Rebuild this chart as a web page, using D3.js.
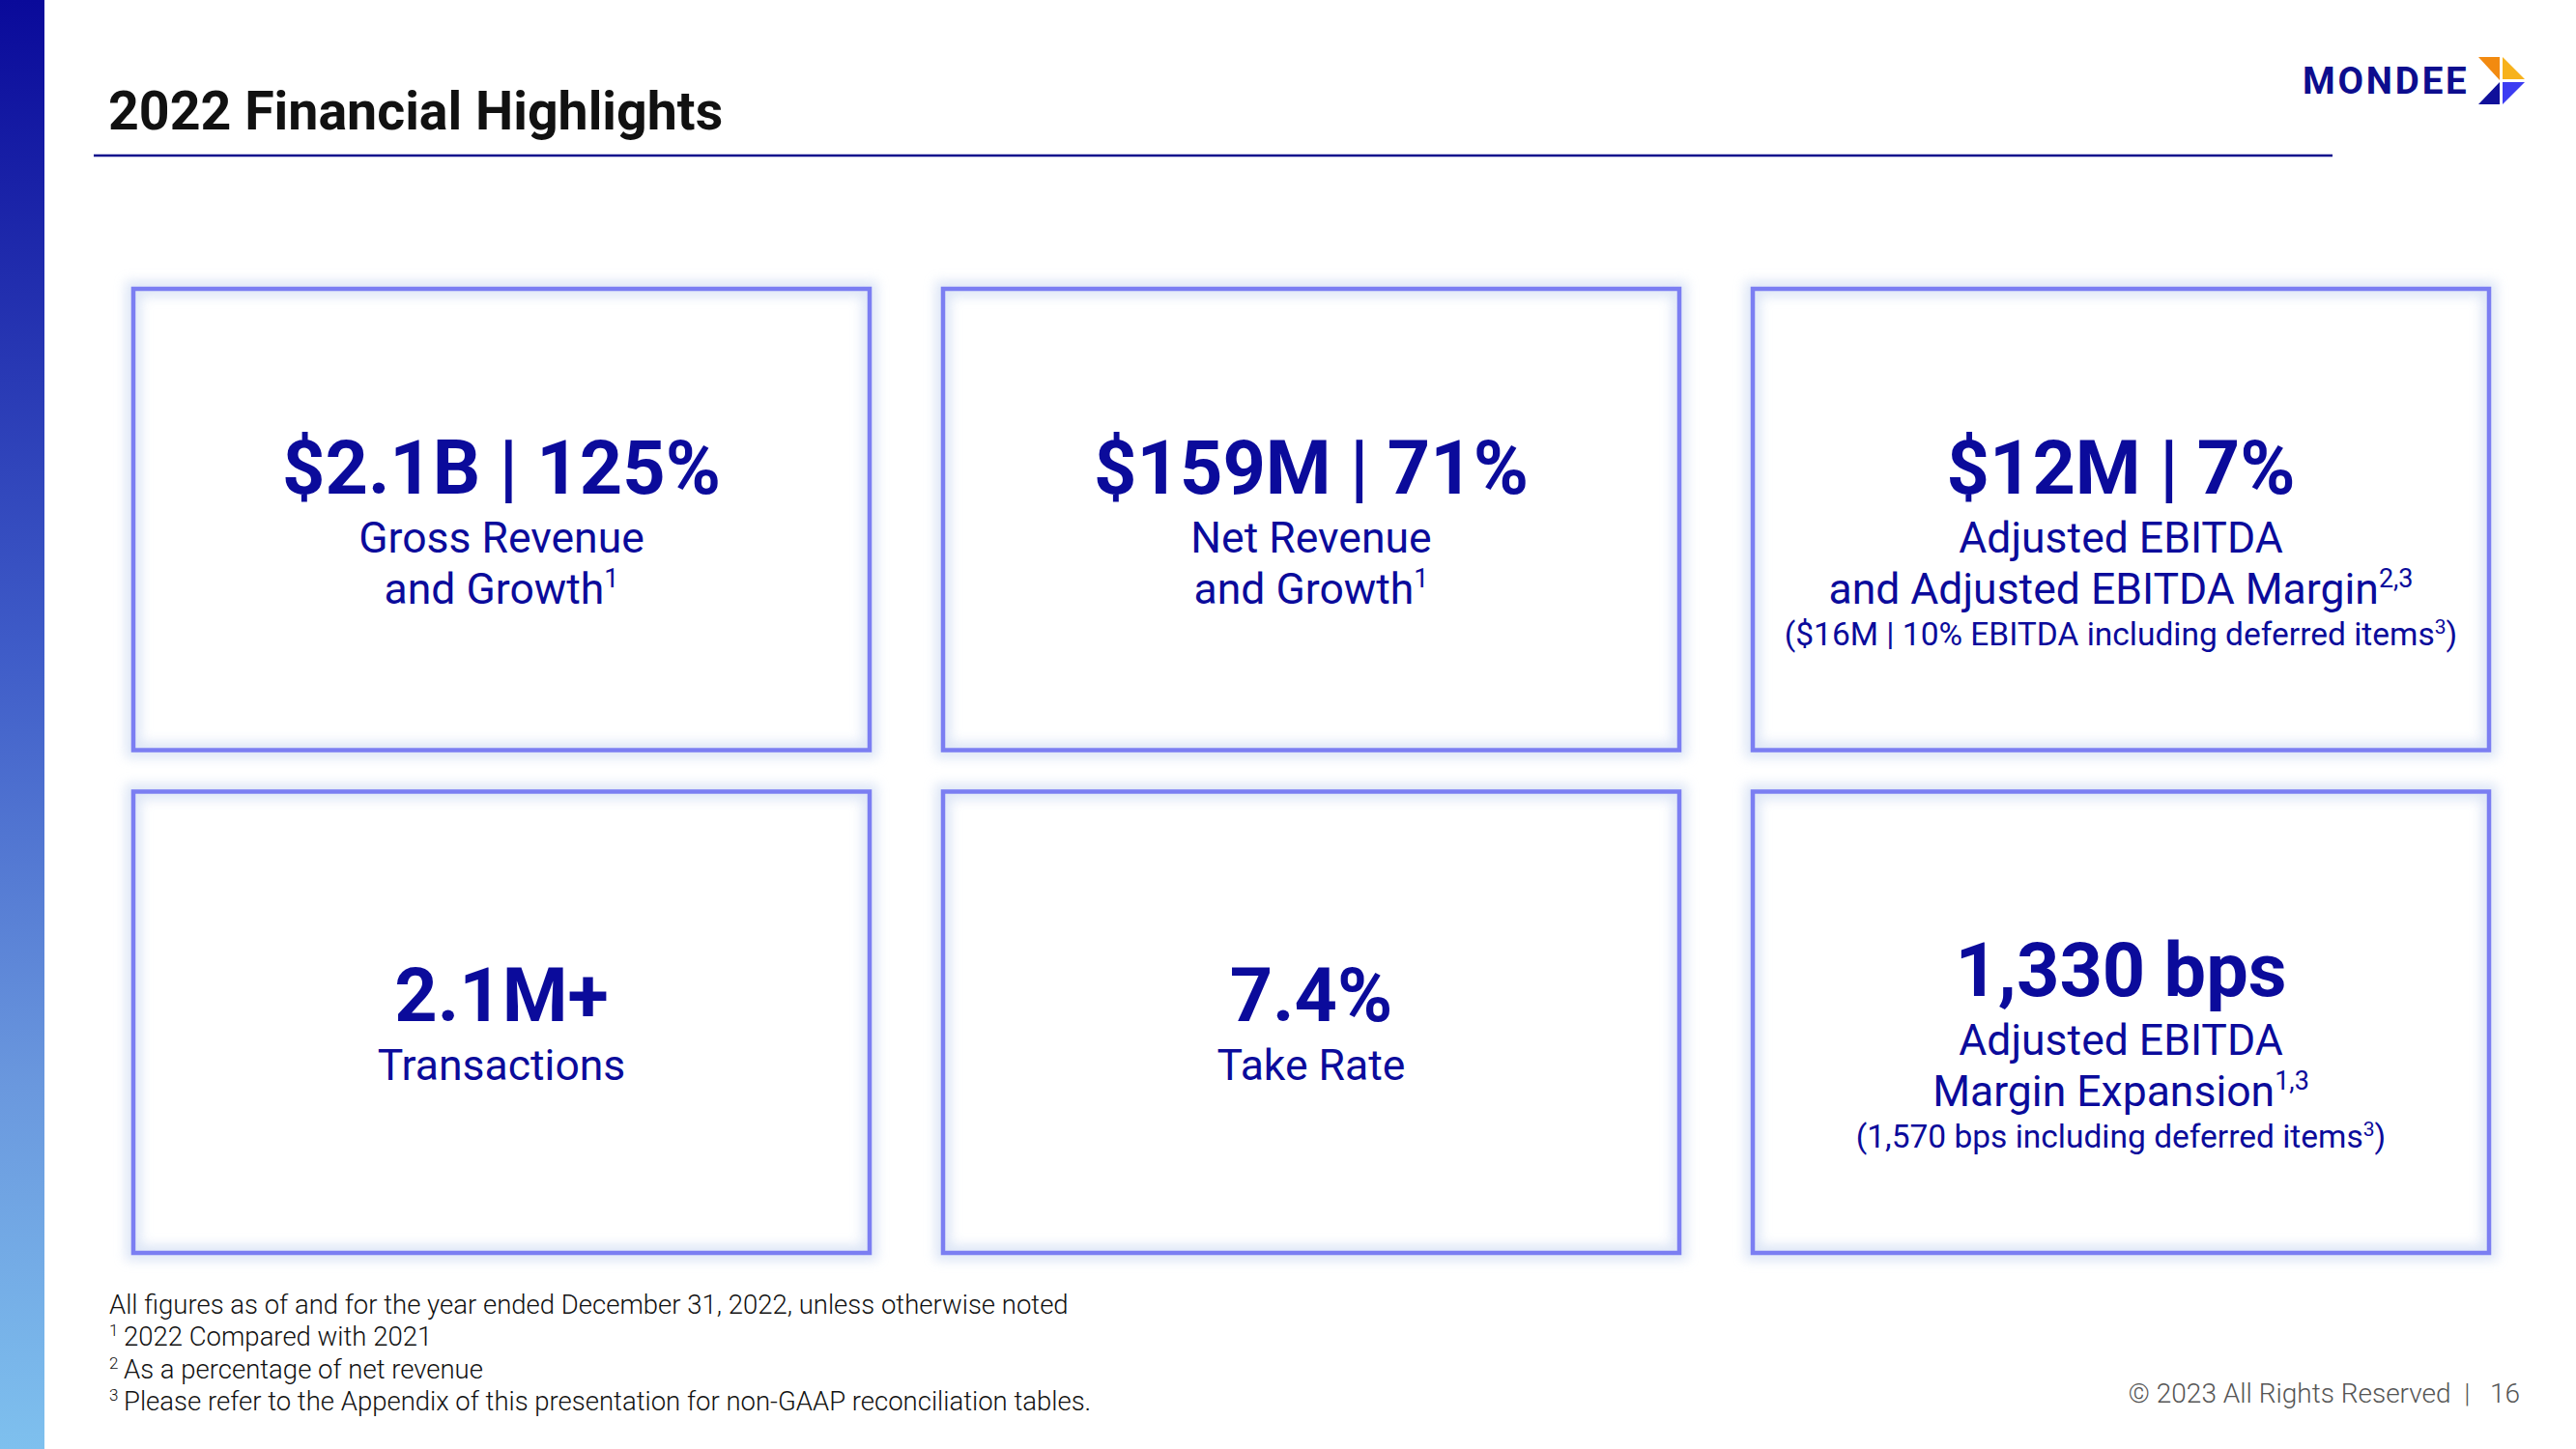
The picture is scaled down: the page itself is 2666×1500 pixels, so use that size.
<!DOCTYPE html>
<html>
<head>
<meta charset="utf-8">
<script src="https://cdn.jsdelivr.net/npm/d3@7"></script>
<style>
  html, body { margin: 0; padding: 0; background: #ffffff; }
  svg { display: block; }
  text { font-family: Roboto, "Noto Sans", sans-serif; }
</style>
</head>
<body>
<svg id="chart" width="2666" height="1500"></svg>
<script>
// ---------- data ----------
const titleText = "2022 Financial Highlights";
const headlines = ["$2.1B | 125%", "$159M | 71%", "$12M | 7%", "2.1M+", "7.4%", "1,330 bps"];
// each subtitle line: [main text, superscript]
const subLines = [
  [["Gross Revenue", ""], ["and Growth", "1"]],
  [["Net Revenue", ""], ["and Growth", "1"]],
  [["Adjusted EBITDA", ""], ["and Adjusted EBITDA Margin", "2,3"]],
  [["Transactions", ""]],
  [["Take Rate", ""]],
  [["Adjusted EBITDA", ""], ["Margin Expansion", "1,3"]]
];
const smallNotes = [
  null, null,
  ["($16M | 10% EBITDA including deferred items", "3", ")"],
  null, null,
  ["(1,570 bps including deferred items", "3", ")"]
];
const footnotes = [
  ["", "All figures as of and for the year ended December 31, 2022, unless otherwise noted"],
  ["1", "2022 Compared with 2021"],
  ["2", "As a percentage of net revenue"],
  ["3", "Please refer to the Appendix of this presentation for non-GAAP reconciliation tables."]
];
const copyrightText = "© 2023 All Rights Reserved  |   16";
const logoText = "MONDEE";

// ---------- styles ----------
const navy = "#0b0b9b";
const boxStroke = "#7b7ef2";

const svg = d3.select("#chart");
const defs = svg.append("defs");

// left gradient bar
const grad = defs.append("linearGradient").attr("id", "sideGrad")
  .attr("x1", 0).attr("y1", 0).attr("x2", 0).attr("y2", 1);
grad.append("stop").attr("offset", "0%").attr("stop-color", "#0a0a9a");
grad.append("stop").attr("offset", "45%").attr("stop-color", "#3f5cc8");
grad.append("stop").attr("offset", "75%").attr("stop-color", "#6a98de");
grad.append("stop").attr("offset", "100%").attr("stop-color", "#7ec0ee");
svg.append("rect").attr("x", 0).attr("y", 0).attr("width", 46).attr("height", 1500)
  .attr("fill", "url(#sideGrad)");

// glow filter
const f = defs.append("filter").attr("id", "glow")
  .attr("x", "-10%").attr("y", "-10%").attr("width", "120%").attr("height", "120%");
f.append("feGaussianBlur").attr("stdDeviation", 6);

// title
svg.append("text").attr("x", 112).attr("y", 134)
  .attr("font-size", 55.5).attr("font-weight", 700).attr("fill", "#111111")
  .text(titleText);
svg.append("line").attr("x1", 97).attr("x2", 2414).attr("y1", 161).attr("y2", 161)
  .attr("stroke", "#0a0a8c").attr("stroke-width", 2.5);

// logo
const logo = svg.append("g");
logo.append("text").attr("x", 2383).attr("y", 97)
  .attr("font-size", 38.5).attr("font-weight", 700).attr("fill", "#0d0d8e")
  .attr("letter-spacing", 2.8)
  .text(logoText);
const tri = [
  {pts: [[2565, 59], [2587, 59], [2587, 83]], c: "#f28a10"},
  {pts: [[2590, 59], [2613, 82], [2590, 82]], c: "#f7b21c"},
  {pts: [[2587, 85], [2587, 108], [2565, 108]], c: "#10109a"},
  {pts: [[2590, 85], [2613, 85], [2590, 108]], c: "#3c3cf2"}
];
logo.selectAll("path.tri").data(tri).join("path")
  .attr("class", "tri")
  .attr("d", d => d3.line()(d.pts) + "Z")
  .attr("fill", d => d.c);

// boxes
const xBand = d3.scaleBand().domain([0, 1, 2]).range([138, 2576]).paddingInner(0.0907);
const yBand = d3.scaleBand().domain([0, 1]).range([299, 1297]).paddingInner(0.0825);

const cards = headlines.map((h, i) => ({
  i, col: i % 3, row: Math.floor(i / 3), head: h, lines: subLines[i], note: smallNotes[i]
}));

const g = svg.selectAll("g.card").data(cards).join("g")
  .attr("class", "card")
  .attr("transform", d => `translate(${xBand(d.col)},${yBand(d.row)})`);

g.append("rect")
  .attr("x", 0).attr("y", 0)
  .attr("width", xBand.bandwidth()).attr("height", yBand.bandwidth())
  .attr("fill", "none").attr("stroke", "#cfdcf3").attr("stroke-width", 16)
  .attr("opacity", 0.7).attr("filter", "url(#glow)");
g.append("rect")
  .attr("x", 0).attr("y", 0)
  .attr("width", xBand.bandwidth()).attr("height", yBand.bandwidth())
  .attr("fill", "none").attr("stroke", boxStroke).attr("stroke-width", 4.5);

const cx = xBand.bandwidth() / 2;

g.append("text")
  .attr("x", cx)
  .attr("y", d => d.lines.length === 1 ? 238 : 212)
  .attr("text-anchor", "middle")
  .attr("font-size", 77.5).attr("font-weight", 700).attr("fill", navy)
  .text(d => d.head);

g.each(function(d) {
  const sel = d3.select(this);
  const y0 = d.lines.length === 1 ? 299 : 273;
  d.lines.forEach((ln, k) => {
    const t = sel.append("text")
      .attr("x", cx).attr("y", y0 + k * 53)
      .attr("text-anchor", "middle")
      .attr("font-size", 44.5).attr("font-weight", 400).attr("fill", navy);
    t.append("tspan").text(ln[0]);
    if (ln[1]) {
      t.append("tspan").attr("dy", -17).attr("font-size", 27).text(ln[1]);
    }
  });
  if (d.note) {
    const t = sel.append("text")
      .attr("x", cx).attr("y", 369)
      .attr("text-anchor", "middle")
      .attr("font-size", 33.5).attr("font-weight", 400).attr("fill", navy);
    t.append("tspan").text(d.note[0]);
    t.append("tspan").attr("dy", -12).attr("font-size", 21).text(d.note[1]);
    t.append("tspan").attr("dy", 12).text(d.note[2]);
  }
});

// footnotes
const fn = svg.append("g");
footnotes.forEach((row, k) => {
  const y = 1360 + k * 33.3;
  if (row[0]) {
    fn.append("text").attr("x", 113).attr("y", y - 10)
      .attr("font-size", 17).attr("font-weight", 300).attr("fill", "#111")
      .text(row[0]);
  }
  fn.append("text").attr("x", row[0] ? 128 : 113).attr("y", y)
    .attr("font-size", 27.5).attr("font-weight", 300).attr("fill", "#111")
    .text(row[1]);
});

// copyright
svg.append("text").attr("x", 2608).attr("y", 1452)
  .attr("text-anchor", "end")
  .attr("font-size", 28).attr("font-weight", 300).attr("fill", "#555555")
  .style("white-space", "pre")
  .text(copyrightText);
</script>
</body>
</html>
